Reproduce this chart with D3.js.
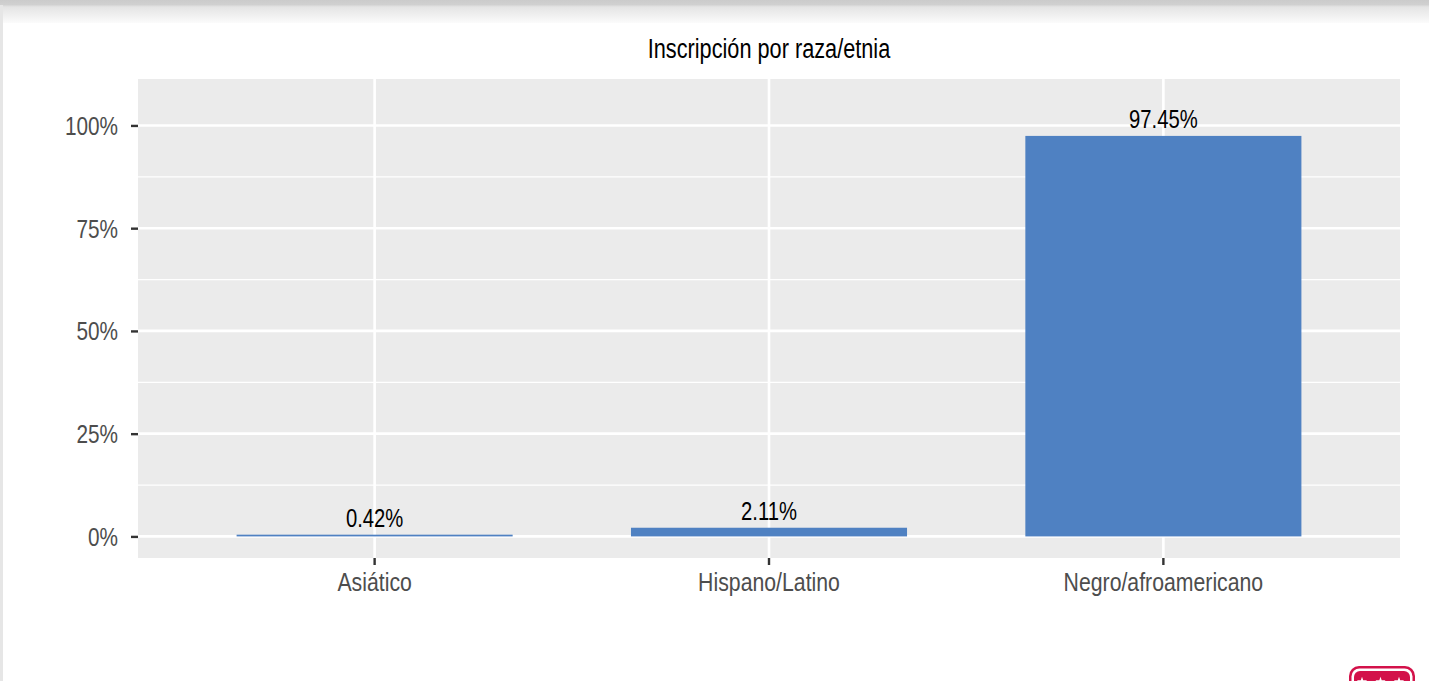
<!DOCTYPE html>
<html><head><meta charset="utf-8">
<script src="https://cdn.jsdelivr.net/npm/d3@7"></script>
<style>html,body{margin:0;padding:0;background:#fff;overflow:hidden}svg{display:block}</style>
</head><body><svg id="c" width="1429" height="681"></svg>
<script>
const categories = ["Asiático","Hispano/Latino","Negro/afroamericano"];
const values = [0.42,2.11,97.45];
const valueLabels = ["0.42%","2.11%","97.45%"];
const majorTicks = [0,25,50,75,100];
const minorTicks = [12.5,37.5,62.5,87.5];
const title = "Inscripción por raza/etnia";
const font = "'Liberation Sans',sans-serif";

const svg = d3.select("#c");
const P = {l:138,r:1400,t:79,b:558};
const x = d3.scaleBand().domain(categories).range([P.l,P.r]).paddingInner(0.3).paddingOuter(0.25);
const y = d3.scaleLinear().domain([-5.35,111.2]).range([P.b+0.4,P.t+0.4]);

// Narrow the glyphs: the reference uses a condensed sans
function condense(sel, k){
  sel.each(function(){
    const w = this.getComputedTextLength();
    d3.select(this).attr("textLength", w*k).attr("lengthAdjust","spacingAndGlyphs");
  });
}

const defs = svg.append("defs");
const g1 = defs.append("linearGradient").attr("id","sh").attr("x1",0).attr("x2",0).attr("y1",0).attr("y2",1);
g1.append("stop").attr("offset",0).attr("stop-color","#cbcbcb");
g1.append("stop").attr("offset",0.2).attr("stop-color","#d0d0d0");
g1.append("stop").attr("offset",0.3).attr("stop-color","#e4e4e4");
g1.append("stop").attr("offset",1).attr("stop-color","#fbfbfb");

svg.append("rect").attr("x",0).attr("y",0).attr("width",1429).attr("height",23).attr("fill","url(#sh)");
svg.append("rect").attr("x",0).attr("y",5).attr("width",3).attr("height",676).attr("fill","#e6e6e6");

svg.append("rect").attr("x",P.l).attr("y",P.t).attr("width",P.r-P.l).attr("height",P.b-P.t).attr("fill","#ebebeb");

svg.append("g").selectAll("line").data(minorTicks).join("line")
  .attr("x1",P.l).attr("x2",P.r).attr("y1",d=>y(d)).attr("y2",d=>y(d))
  .attr("stroke","#fff").attr("stroke-width",1.3);
svg.append("g").selectAll("line").data(majorTicks).join("line")
  .attr("x1",P.l).attr("x2",P.r).attr("y1",d=>y(d)).attr("y2",d=>y(d))
  .attr("stroke","#fff").attr("stroke-width",2.6);
svg.append("g").selectAll("line").data(categories).join("line")
  .attr("x1",d=>x(d)+x.bandwidth()/2).attr("x2",d=>x(d)+x.bandwidth()/2).attr("y1",P.t).attr("y2",P.b)
  .attr("stroke","#fff").attr("stroke-width",2.6);

svg.append("g").selectAll("rect").data(values).join("rect")
  .attr("x",(d,i)=>x(categories[i])).attr("width",x.bandwidth())
  .attr("y",d=>y(d)).attr("height",d=>y(0)-y(d))
  .attr("fill","#4f81c2");

const yAxis = d3.axisLeft(y).tickValues(majorTicks).tickFormat(d=>d+"%").tickSize(7).tickPadding(13);
const xAxis = d3.axisBottom(x).tickSize(7).tickPadding(8);
const ya = svg.append("g").attr("transform",`translate(${P.l},0)`).call(yAxis);
const xa = svg.append("g").attr("transform",`translate(0,${P.b})`).call(xAxis);
[ya,xa].forEach(a=>{
  a.select(".domain").remove();
  a.selectAll("line").attr("stroke","#333").attr("stroke-width",2.4);
  a.selectAll("text").attr("fill","#4d4d4d").style("font-family",font).style("font-size","25px");
});
ya.selectAll("text").attr("dy","0.36em");
condense(ya.selectAll("text"),0.83);
condense(xa.selectAll("text"),0.85);

svg.append("g").selectAll("text").data(values).join("text")
  .attr("x",(d,i)=>x(categories[i])+x.bandwidth()/2).attr("y",d=>y(d)-8)
  .attr("text-anchor","middle").attr("fill","#000")
  .style("font-family",font).style("font-size","25px")
  .text((d,i)=>valueLabels[i])
  .call(condense,0.81);

svg.append("text").attr("x",769).attr("y",58).attr("text-anchor","middle").attr("fill","#000")
  .style("font-family",font).style("font-size","27px").text(title)
  .call(condense,0.804);

// logo, cropped by the bottom edge
const logo = svg.append("g");
logo.append("rect").attr("x",1349).attr("y",666).attr("width",66).attr("height",44).attr("rx",10).attr("fill","#d3124a");
logo.append("rect").attr("x",1351.5).attr("y",668.5).attr("width",61).attr("height",39).attr("rx",8).attr("fill","#fff");
logo.append("rect").attr("x",1354).attr("y",671).attr("width",56).attr("height",34).attr("rx",6).attr("fill","#d3124a");
logo.selectAll("path").data([1362,1380.5,1399]).join("path")
  .attr("d",d3.symbol(d3.symbolStar,32)).attr("transform",d=>`translate(${d},682)`).attr("fill","#fff");
</script></body></html>
